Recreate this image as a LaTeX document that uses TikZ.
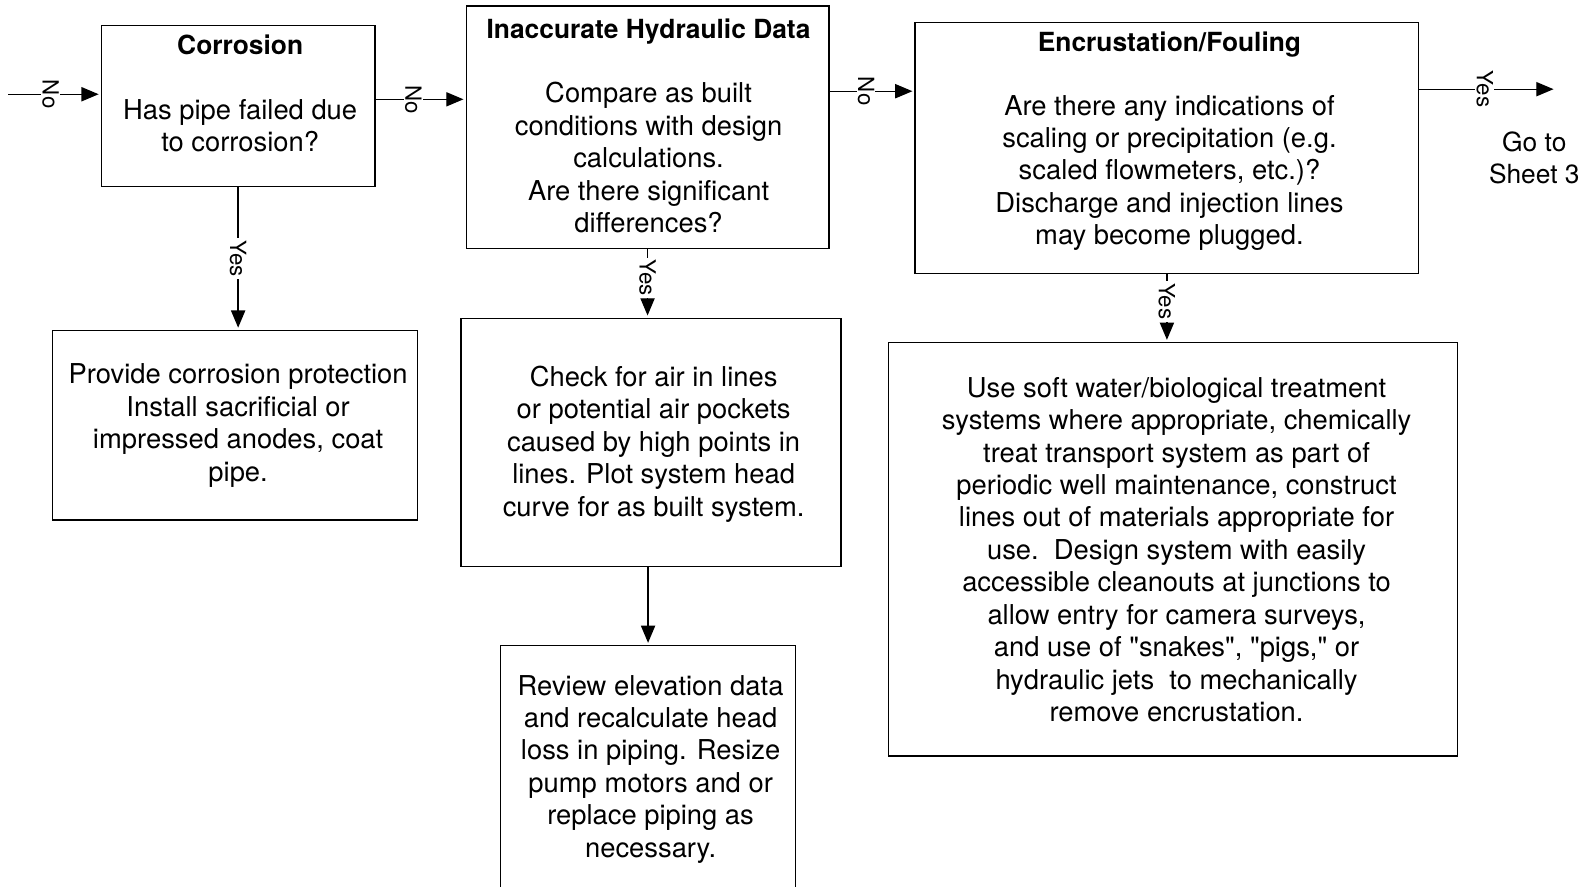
\documentclass[tikz,border=0pt]{standalone}
\usepackage{fontspec}
\setmainfont{TeX Gyre Heros}[Ligatures=TeXOff]
\usetikzlibrary{arrows.meta,calc}
\tikzset{
  box/.style={draw, line width=1.3pt, rectangle, inner sep=0pt},
  txt/.style={align=center, inner sep=0pt, anchor=north, font=\fontsize{27}{32}\selectfont},
  lab/.style={fill=white, rotate=-90, inner xsep=2pt, inner ysep=1pt, font=\fontsize{22}{24}\selectfont},
  arr/.style={line width=1.3pt, -{Triangle[length=17pt,width=14pt]}, shorten >=2pt},
}
\newcommand{\ttl}[1]{{\fontsize{26}{32}\selectfont\bfseries #1}}
\begin{document}
\begin{tikzpicture}[x=1pt,y=-1pt]
\useasboundingbox (0,0) rectangle (1568,875);
\clip (0,0) rectangle (1568,875);
\fill[white] (0,0) rectangle (1568,875);

% boxes
\node[box, minimum width=270pt, minimum height=159pt] (cor) at (235,104.5) {};
\node[box, minimum width=358pt, minimum height=239pt] (hyd) at (639,125.5) {};
\node[box, minimum width=497pt, minimum height=248pt] (enc) at (1151.5,146) {};
\node[box, minimum width=360pt, minimum height=187pt] (prov) at (232,419.5) {};
\node[box, minimum width=375pt, minimum height=245pt] (chk) at (642.5,436.5) {};
\node[box, minimum width=291pt, minimum height=263pt] (rev) at (639.5,768.5) {};
\node[box, minimum width=561pt, minimum height=408pt] (soft) at (1157.5,542) {};

% texts
\node[txt] (cort) at (237,34) {\ttl{Corrosion}\\[32pt]Has pipe failed due\\to corrosion?};
\node[txt] (hydt) at (640,18) {\ttl{Inaccurate Hydraulic Data}\\[32pt]Compare as built\\conditions with design\\calculations.\\Are there significant\\differences?};
\node[txt] (enct) at (1154,31) {\ttl{Encrustation/Fouling}\\[31pt]Are there any indications of\\scaling or precipitation (e.g.\\scaled flowmeters, etc.)?\\Discharge and injection lines\\may become plugged.};
\node[txt] (provt) at (235,359) {Provide corrosion protection\\Install sacrificial or\\impressed anodes, coat\\pipe.};
\node[txt] (chkt) at (645,361) {Check for air in lines\\or potential air pockets\\caused by high points in\\lines. Plot system head\\curve for as built system.};
\node[txt] (revt) at (642,666) {Review elevation data\\and recalculate head\\loss in piping. Resize\\pump motors and or\\replace piping as\\necessary.};
\node[txt] (softt) at (1161,372) {Use soft water/biological treatment\\systems where appropriate, chemically\\treat transport system as part of\\periodic well maintenance, construct\\lines out of materials appropriate for\\use.\ \ Design system with easily\\accessible cleanouts at junctions to\\allow entry for camera surveys,\\and use of "snakes", "pigs," or\\hydraulic jets\ \ to mechanically\\remove encrustation.};
\node[txt, font=\fontsize{26}{31}\selectfont] (goto) at (1514,130) {Go to\\Sheet 3};

% connectors
\coordinate (start) at (8,93);
\coordinate (out) at (1535,88);
\draw[arr] (start) -- node[lab, pos=0.46] {No} (start -| cor.west);
\draw[arr] (cor.east |- 0,98) -- node[lab, pos=0.42] {No} (hyd.west |- 0,98);
\draw[arr] (hyd.east |- 0,90) -- node[lab, pos=0.43] {No} (enc.west |- 0,90);
\draw[arr] (enc.east |- out) -- node[lab, pos=0.48] {Yes} (out);
\draw[arr] (cor.south) -- node[lab, pos=0.5] {Yes} (cor.south |- prov.north);
\draw[arr] (hyd.south) -- node[lab, pos=0.42] {Yes} (hyd.south |- chk.north);
\draw[arr] (enc.south) -- node[lab, pos=0.4] {Yes} (enc.south |- soft.north);
\draw[arr] (chk.south -| rev.north) -- (rev.north);
\end{tikzpicture}
\end{document}
